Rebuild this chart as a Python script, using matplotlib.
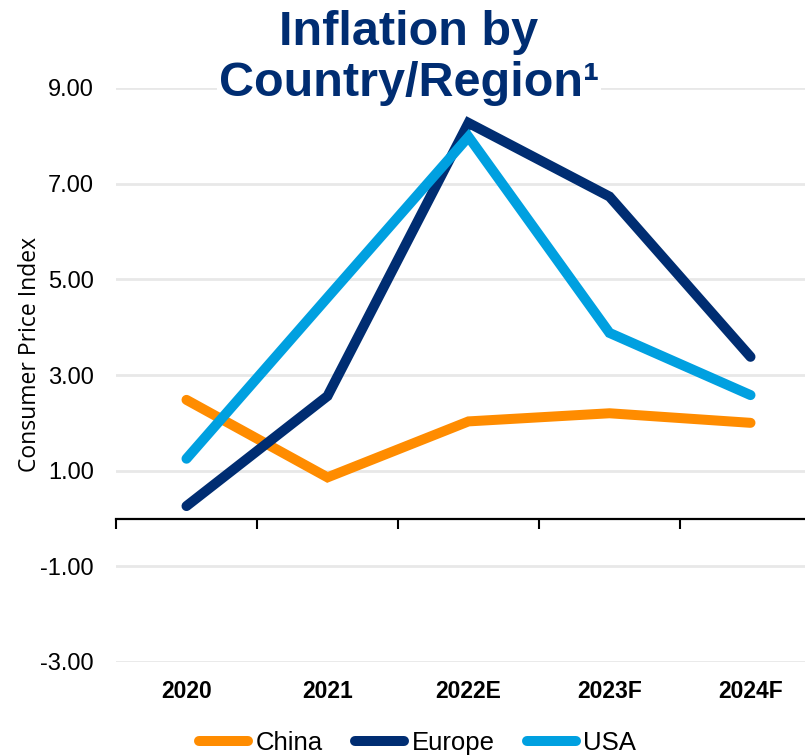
import matplotlib.pyplot as plt
import numpy as np

years = ['2020', '2021', '2022E', '2023F', '2024F']
china = [2.48, 0.86, 2.03, 2.20, 2.00]
europe = [0.26, 2.56, 8.27, 6.73, 3.38]
usa = [1.25, 4.62, 7.98, 3.88, 2.58]

series = [('China', china, '#FF8C00'),
          ('Europe', europe, '#002D72'),
          ('USA', usa, '#00A0E0')]

plt.rcParams['font.family'] = ['Liberation Sans', 'DejaVu Sans']

fig = plt.figure(figsize=(8.05, 7.55), dpi=100)
ax = fig.add_axes([116 / 805, 1 - 662 / 755, 705 / 805, 574 / 755])

x = np.arange(len(years))
for name, vals, col in series:
    ax.plot(x, vals, color=col, lw=7.2, solid_capstyle='round',
            solid_joinstyle='miter', label=name)

ax.set_xlim(-0.5, len(years) - 0.5)
ax.set_ylim(-3, 9)
ax.set_yticks(np.arange(-3, 10, 2))
ax.set_yticklabels([f'{v:.2f}' for v in np.arange(-3, 10, 2)], fontsize=17)
ax.set_xticks(x)
ax.set_xticklabels(years, fontsize=16.5, fontweight='bold')
ax.tick_params(axis='x', length=0, pad=13)
ax.tick_params(axis='y', length=0, pad=16)
ax.grid(axis='y', color='#E8E8E8', lw=2)
ax.set_axisbelow(True)
for s in ax.spines.values():
    s.set_visible(False)

# axis line at zero with category-boundary ticks
zero = ax.secondary_xaxis(3 / 12)
zero.set_xticks(np.arange(-0.5, len(years), 1))
zero.set_xticklabels([])
zero.tick_params(length=7, width=1.5, direction='out')
zero.spines['bottom'].set_linewidth(1.6)

ax.set_ylabel('Consumer Price Index', fontsize=16.5, family=['Open Sans', 'DejaVu Sans'])
ax.yaxis.set_label_coords(-0.105, 0.535)

fig.text(0.508, 1 - 58 / 755, 'Inflation by\nCountry/Region\u00b9', ha='center', va='center',
         fontsize=35, fontweight='bold', color='#002D72', linespacing=1.15,
         bbox=dict(facecolor='white', edgecolor='none', pad=1))

ax.legend(loc='lower center', bbox_to_anchor=(0.519, 0.0), bbox_transform=fig.transFigure,
          ncol=3, frameon=False, fontsize=18.5, handlelength=1.9, handletextpad=0.3,
          columnspacing=1.25, borderpad=0, borderaxespad=0)

fig.savefig('out.png', dpi=100)
